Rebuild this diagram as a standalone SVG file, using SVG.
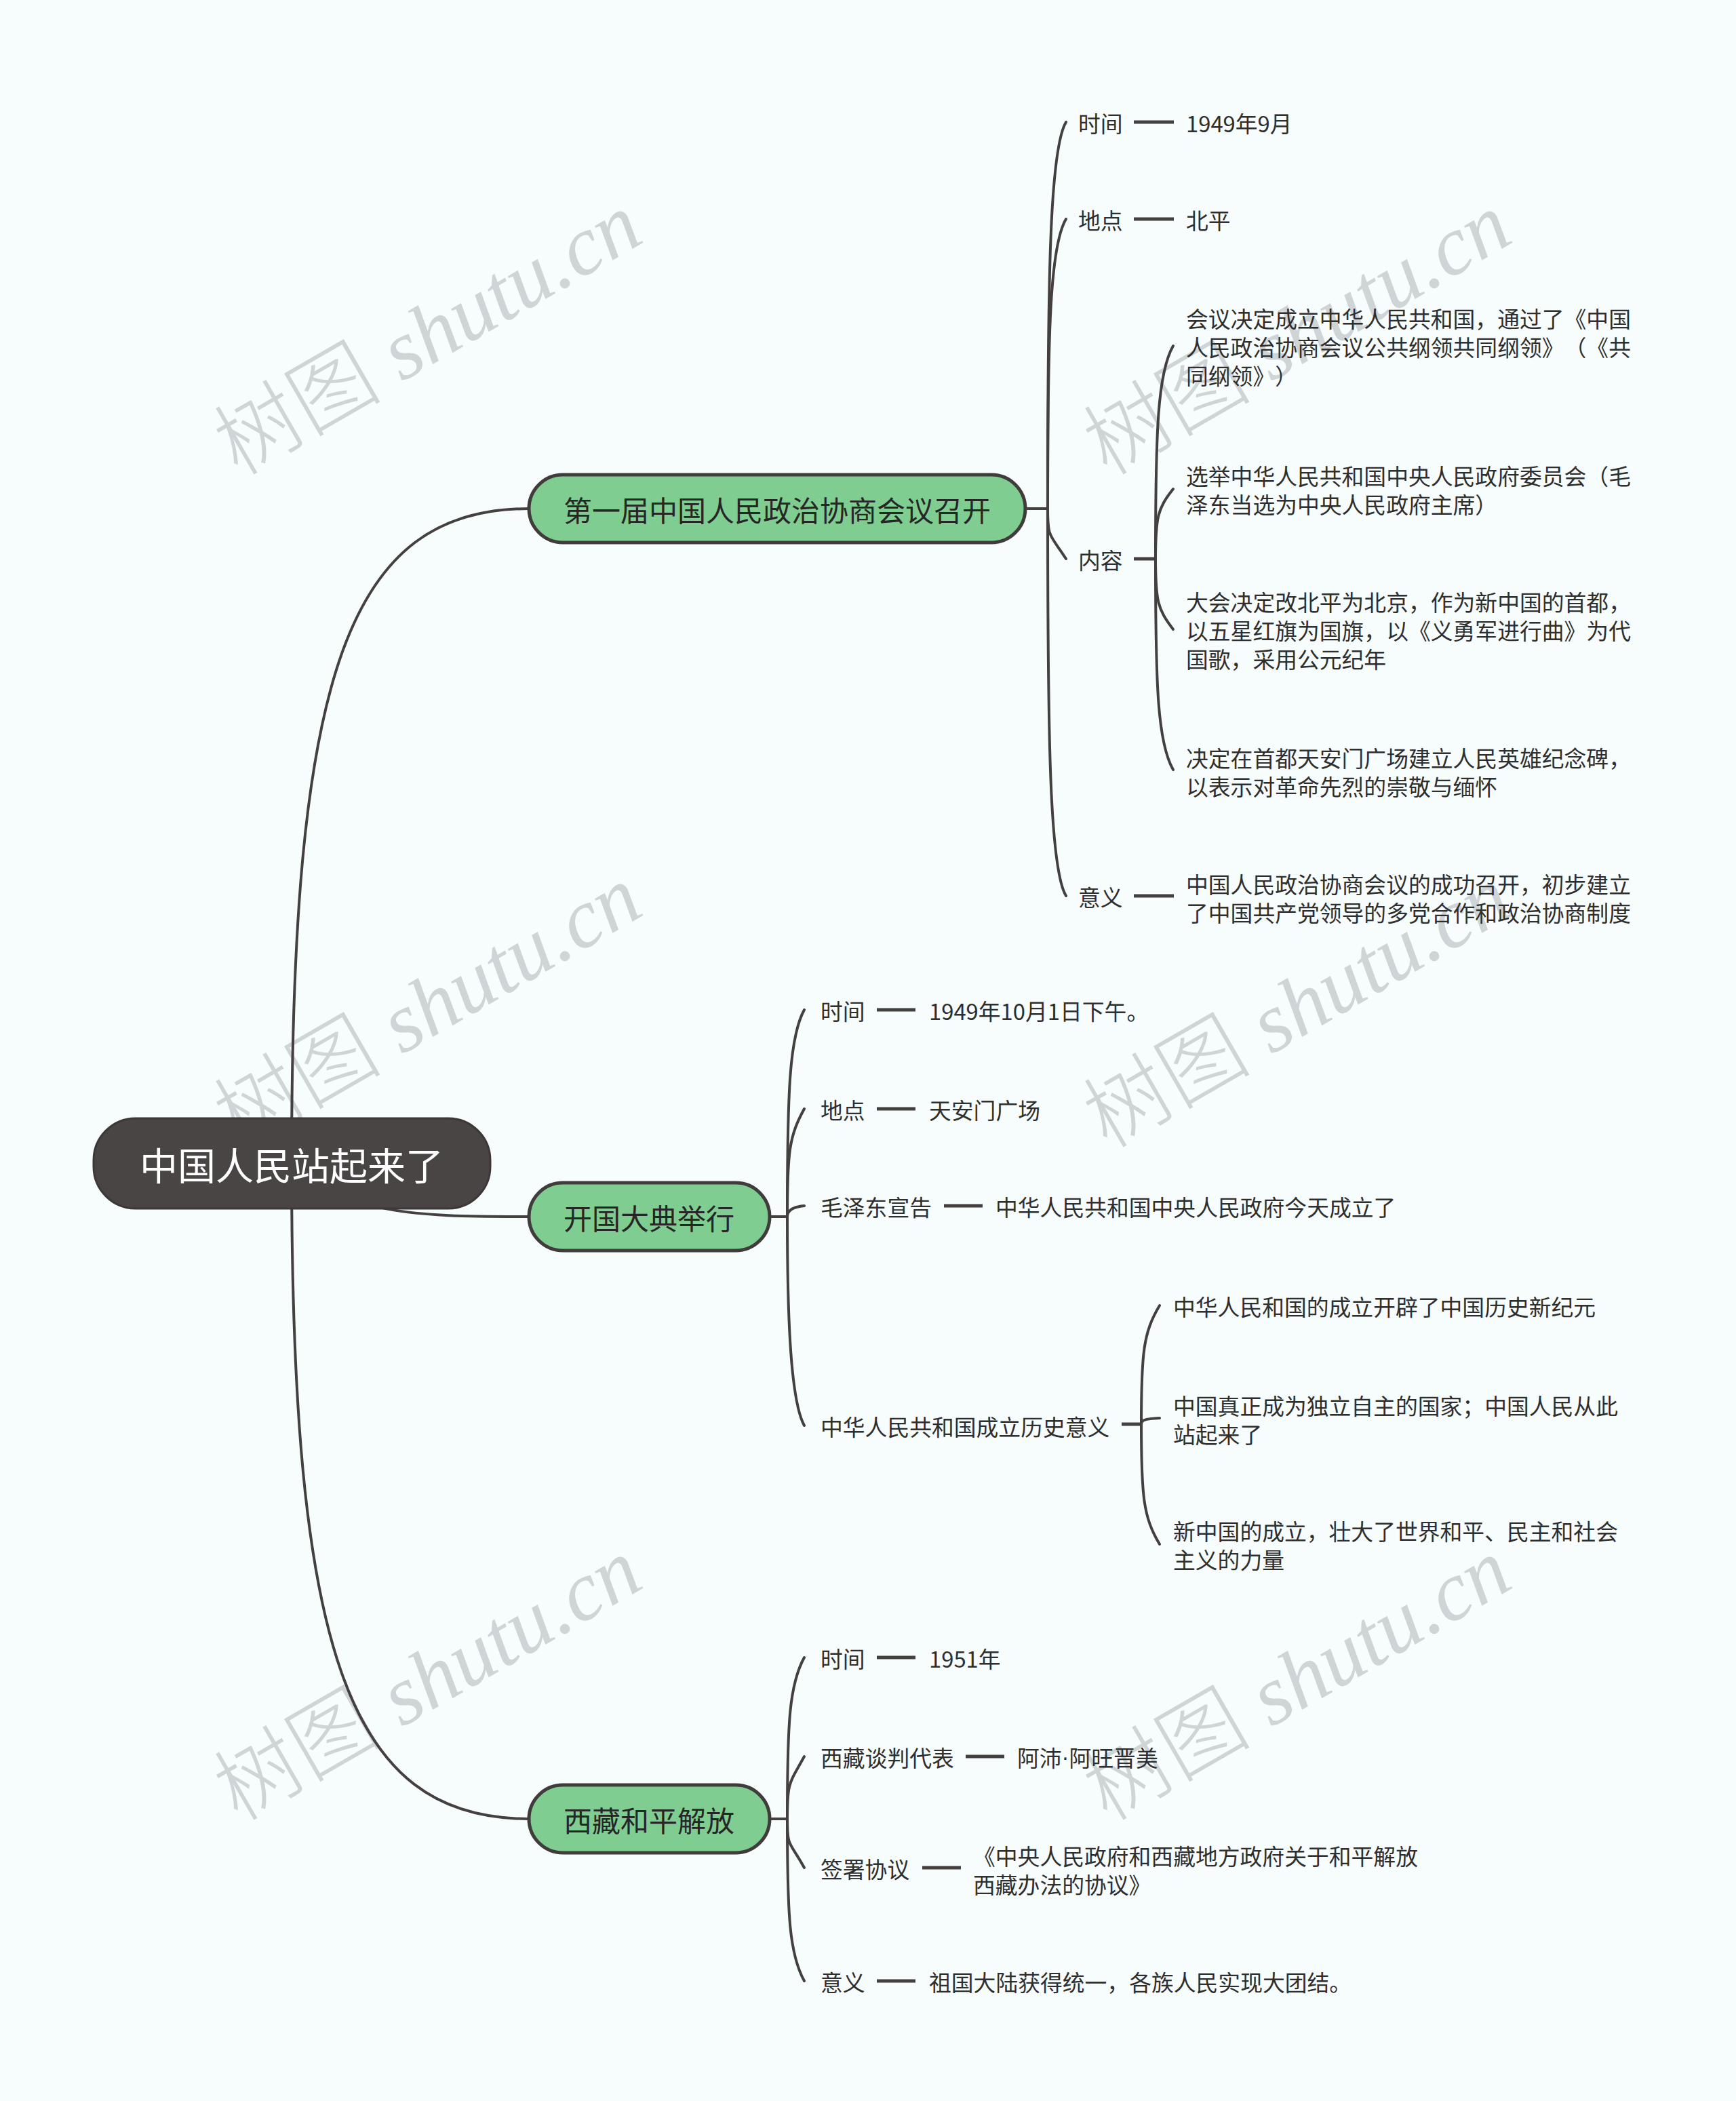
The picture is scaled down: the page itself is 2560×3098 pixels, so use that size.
<svg xmlns="http://www.w3.org/2000/svg" width="2560" height="3098" viewBox="0 0 2560 3098">
<style>
.bg{fill:#f7fcfd}
.wm{font-family:"Liberation Serif","Noto Sans CJK SC",serif;font-size:124px;fill:#cfd4d6;font-style:italic}
.wmc{font-family:"Noto Sans CJK SC",serif;font-style:normal;font-weight:300}
.conn{fill:none;stroke:#444040;stroke-width:4;stroke-linecap:round}
.dash{fill:none;stroke:#444040;stroke-width:5}
.t{font-family:"Noto Sans CJK SC","Noto Sans",sans-serif;font-size:32.8px;fill:#2e2e2e;dominant-baseline:central;text-spacing-trim:space-all}
.dot{font-family:"Liberation Sans",sans-serif}
.main rect{fill:#7fcd91;stroke:#403c3c;stroke-width:5}
.main text{font-family:"Noto Sans CJK SC","Noto Sans",sans-serif;font-size:42px;fill:#262626;dominant-baseline:central;text-anchor:middle}
.root rect{fill:#4a4545;stroke:#3c3838;stroke-width:3}
.root text{font-family:"Noto Sans CJK SC","Noto Sans",sans-serif;font-size:56px;fill:#ffffff;dominant-baseline:central;text-anchor:middle}
</style>
<rect class="bg" x="0" y="0" width="2560" height="3098"/>
<g id="watermarks">
<text class="wm" transform="translate(652,529) rotate(-30)" text-anchor="middle"><tspan class="wmc">树图</tspan> shutu.cn</text>
<text class="wm" transform="translate(1934,529) rotate(-30)" text-anchor="middle"><tspan class="wmc">树图</tspan> shutu.cn</text>
<text class="wm" transform="translate(652,1521) rotate(-30)" text-anchor="middle"><tspan class="wmc">树图</tspan> shutu.cn</text>
<text class="wm" transform="translate(1934,1521) rotate(-30)" text-anchor="middle"><tspan class="wmc">树图</tspan> shutu.cn</text>
<text class="wm" transform="translate(652,2513) rotate(-30)" text-anchor="middle"><tspan class="wmc">树图</tspan> shutu.cn</text>
<text class="wm" transform="translate(1934,2513) rotate(-30)" text-anchor="middle"><tspan class="wmc">树图</tspan> shutu.cn</text>
</g>
<g id="connectors">
<path class="conn" d="M430,1715 C430,1000 510,750 780,750"/>
<path class="conn" d="M430,1715 C520,1790 600,1794 780,1794"/>
<path class="conn" d="M430,1715 C430,2430 510,2682 780,2682"/>
<path class="conn" d="M1512,750 H1545"/>
<path class="conn" d="M1545,750 C1545,408 1548,220 1572,180"/>
<path class="conn" d="M1545,750 C1545,494 1548,363 1572,323"/>
<path class="conn" d="M1545,750 C1545,794 1548,787 1572,824"/>
<path class="conn" d="M1545,750 C1545,1093 1548,1281 1572,1321"/>
<path class="dash" d="M1672,180 H1731"/>
<path class="dash" d="M1672,323 H1731"/>
<path class="dash" d="M1672,824 H1704"/>
<path class="dash" d="M1672,1321 H1731"/>
<path class="conn" d="M1704,824 C1704,636 1707,550 1730,510"/>
<path class="conn" d="M1704,824 C1704,763 1707,750 1730,721"/>
<path class="conn" d="M1704,824 C1704,886 1707,898 1730,928"/>
<path class="conn" d="M1704,824 C1704,1011 1707,1095 1730,1135"/>
<path class="conn" d="M1135,1794 H1161"/>
<path class="conn" d="M1161,1794 C1161,1611 1164,1529 1186,1489"/>
<path class="conn" d="M1161,1794 C1161,1698 1164,1675 1186,1635"/>
<path class="conn" d="M1161,1794 C1161,1788 1164,1780 1186,1778"/>
<path class="conn" d="M1161,1794 C1161,1919 1164,2062 1186,2102"/>
<path class="dash" d="M1293,1489 H1350"/>
<path class="dash" d="M1293,1635 H1350"/>
<path class="dash" d="M1392,1778 H1449"/>
<path class="dash" d="M1654,2100 H1683"/>
<path class="conn" d="M1683,2100 C1683,1995 1686,1965 1710,1925"/>
<path class="conn" d="M1683,2100 C1683,2095 1686,2092 1710,2091"/>
<path class="conn" d="M1683,2100 C1683,2206 1686,2237 1710,2277"/>
<path class="conn" d="M1135,2682 H1161"/>
<path class="conn" d="M1161,2682 C1161,2539 1164,2484 1186,2444"/>
<path class="conn" d="M1161,2682 C1161,2627 1164,2630 1186,2590"/>
<path class="conn" d="M1161,2682 C1161,2725 1164,2714 1186,2754"/>
<path class="conn" d="M1161,2682 C1161,2825 1164,2881 1186,2921"/>
<path class="dash" d="M1293,2444 H1350"/>
<path class="dash" d="M1424,2590 H1481"/>
<path class="dash" d="M1360,2754 H1417"/>
<path class="dash" d="M1293,2921 H1350"/>
</g>
<g id="root" class="root">
<rect x="138" y="1649" width="585" height="133" rx="62"/>
<text x="430" y="1715">中国人民站起来了</text>
</g>
<g id="b1" class="main">
<rect x="780" y="700" width="732" height="100" rx="50"/>
<text x="1146" y="750">第一届中国人民政治协商会议召开</text>
</g>
<g id="b2" class="main">
<rect x="780" y="1744" width="355" height="100" rx="50"/>
<text x="957" y="1794">开国大典举行</text>
</g>
<g id="b3" class="main">
<rect x="780" y="2632" width="355" height="100" rx="50"/>
<text x="957" y="2682">西藏和平解放</text>
</g>
<g id="b1-time"><text class="t" x="1590" y="180">时间</text></g>
<g id="b1-time-v"><text class="t" x="1749" y="180">1949年9月</text></g>
<g id="b1-place"><text class="t" x="1590" y="323">地点</text></g>
<g id="b1-place-v"><text class="t" x="1749" y="323">北平</text></g>
<g id="b1-content"><text class="t" x="1590" y="824">内容</text></g>
<g id="b1-c1"><text class="t"><tspan x="1749" y="468">会议决定成立中华人民共和国，通过了《中国</tspan><tspan x="1749" y="510">人民政治协商会议公共纲领共同纲领》（《共</tspan><tspan x="1749" y="552">同纲领》）</tspan></text></g>
<g id="b1-c2"><text class="t"><tspan x="1749" y="700">选举中华人民共和国中央人民政府委员会（毛</tspan><tspan x="1749" y="742">泽东当选为中央人民政府主席）</tspan></text></g>
<g id="b1-c3"><text class="t"><tspan x="1749" y="886">大会决定改北平为北京，作为新中国的首都，</tspan><tspan x="1749" y="928">以五星红旗为国旗，以《义勇军进行曲》为代</tspan><tspan x="1749" y="970">国歌，采用公元纪年</tspan></text></g>
<g id="b1-c4"><text class="t"><tspan x="1749" y="1116">决定在首都天安门广场建立人民英雄纪念碑，</tspan><tspan x="1749" y="1158">以表示对革命先烈的崇敬与缅怀</tspan></text></g>
<g id="b1-sig"><text class="t" x="1590" y="1321">意义</text></g>
<g id="b1-sig-v"><text class="t"><tspan x="1749" y="1302">中国人民政治协商会议的成功召开，初步建立</tspan><tspan x="1749" y="1344">了中国共产党领导的多党合作和政治协商制度</tspan></text></g>
<g id="b2-time"><text class="t" x="1210" y="1489">时间</text></g>
<g id="b2-time-v"><text class="t" x="1370" y="1489">1949年10月1日下午。</text></g>
<g id="b2-place"><text class="t" x="1210" y="1635">地点</text></g>
<g id="b2-place-v"><text class="t" x="1370" y="1635">天安门广场</text></g>
<g id="b2-mao"><text class="t" x="1210" y="1778">毛泽东宣告</text></g>
<g id="b2-mao-v"><text class="t" x="1468" y="1778">中华人民共和国中央人民政府今天成立了</text></g>
<g id="b2-sig"><text class="t" x="1210" y="2102">中华人民共和国成立历史意义</text></g>
<g id="b2-s1"><text class="t" x="1730" y="1925">中华人民和国的成立开辟了中国历史新纪元</text></g>
<g id="b2-s2"><text class="t"><tspan x="1730" y="2071">中国真正成为独立自主的国家；中国人民从此</tspan><tspan x="1730" y="2113">站起来了</tspan></text></g>
<g id="b2-s3"><text class="t"><tspan x="1730" y="2256">新中国的成立，壮大了世界和平、民主和社会</tspan><tspan x="1730" y="2298">主义的力量</tspan></text></g>
<g id="b3-time"><text class="t" x="1210" y="2444">时间</text></g>
<g id="b3-time-v"><text class="t" x="1370" y="2444">1951年</text></g>
<g id="b3-rep"><text class="t" x="1210" y="2590">西藏谈判代表</text></g>
<g id="b3-rep-v"><text class="t" x="1500" y="2590">阿沛<tspan class="dot">·</tspan>阿旺晋美</text></g>
<g id="b3-agr"><text class="t" x="1210" y="2754">签署协议</text></g>
<g id="b3-agr-v"><text class="t"><tspan x="1435" y="2735">《中央人民政府和西藏地方政府关于和平解放</tspan><tspan x="1435" y="2777">西藏办法的协议》</tspan></text></g>
<g id="b3-sig"><text class="t" x="1210" y="2921">意义</text></g>
<g id="b3-sig-v"><text class="t" x="1370" y="2921">祖国大陆获得统一，各族人民实现大团结。</text></g>
</svg>
